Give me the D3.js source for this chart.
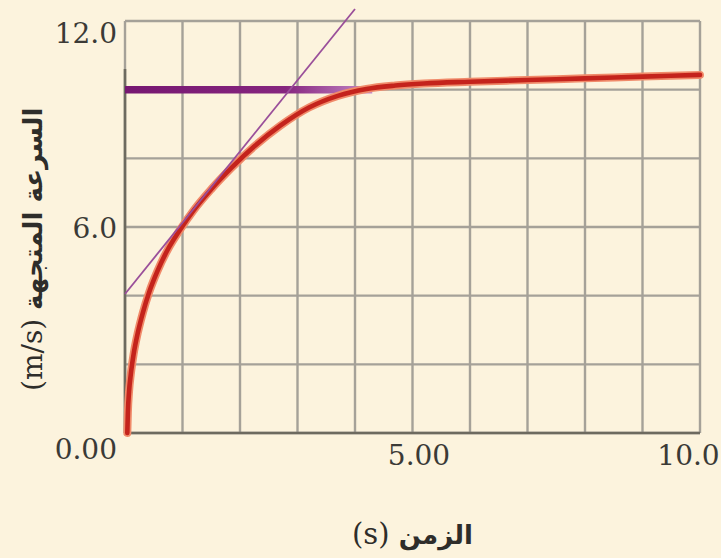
<!DOCTYPE html>
<html><head><meta charset="utf-8">
<script src="https://cdn.jsdelivr.net/npm/d3@7"></script>
<style>html,body{margin:0;padding:0;background:#fcf3dd;}svg{display:block;}</style>
</head><body>
<script>
// ---- data ----
const timeVals   = [0.04, 0.05, 0.07, 0.10, 0.15, 0.22, 0.31, 0.42, 0.56, 0.73, 0.95, 1.2, 1.5, 1.85, 2.25, 2.7, 3.2, 3.7, 4.2, 4.7, 5.2, 6.0, 7.0, 8.0, 9.0, 10.0];
const speedVals  = [0.0, 0.6, 1.2, 1.7, 2.3, 2.9, 3.5, 4.1, 4.7, 5.3, 5.9, 6.5, 7.1, 7.72, 8.35, 8.95, 9.48, 9.82, 10.02, 10.12, 10.18, 10.23, 10.28, 10.33, 10.38, 10.43];
const limitT     = [0, 4.3];
const limitV     = [10.0, 10.0];
const tangentT   = [0, 4.0];
const tangentV   = [4.05, 12.35];
const xTicks     = [5, 10];
const xTickText  = ["5.00", "10.0"];
const yTicks     = [0, 6, 12];
const yTickText  = ["0.00", "6.0", "12.0"];
const xGrid      = [0,1,2,3,4,5,6,7,8,9,10];
const yGrid      = [0,2,4,6,8,10,12];
const xTitleAr   = "الزمن";
const xTitleUnit = "(s)";
const yTitleAr   = "السرعة المتجهة";
const yTitleUnit = "(m/s)";

const W = 721, H = 558;
const m = {left:125, right:21, top:21, bottom:125};
const svg = d3.select("body").append("svg").attr("width", W).attr("height", H);
svg.append("rect").attr("width", W).attr("height", H).attr("fill", "#fcf3dd");

const x = d3.scaleLinear().domain([0,10]).range([m.left, W - m.right]);
const y = d3.scaleLinear().domain([0,12]).range([H - m.bottom, m.top]);

// grid
const g = svg.append("g");
g.selectAll("line.vx").data(xGrid).join("line")
  .attr("x1", d => x(d)).attr("x2", d => x(d)).attr("y1", y(0)).attr("y2", y(12))
  .attr("stroke", "#a5a198").attr("stroke-width", 2.4);
g.selectAll("line.hy").data(yGrid).join("line")
  .attr("y1", d => y(d)).attr("y2", d => y(d)).attr("x1", x(0)).attr("x2", x(10))
  .attr("stroke", "#a5a198").attr("stroke-width", 2.4);

// axes frame (bottom & left dark)
g.append("line").attr("x1", x(0)).attr("x2", x(10)).attr("y1", y(0)).attr("y2", y(0))
  .attr("stroke", "#6d6a5f").attr("stroke-width", 2.6);
g.append("line").attr("x1", x(0)).attr("x2", x(0)).attr("y1", y(0)).attr("y2", y(10.6))
  .attr("stroke", "#6d6a5f").attr("stroke-width", 2.6);

// gradient for limit line
const defs = svg.append("defs");
const lg = defs.append("linearGradient").attr("id", "lim").attr("gradientUnits", "userSpaceOnUse")
  .attr("x1", x(0)).attr("x2", x(4.3)).attr("y1", 0).attr("y2", 0);
lg.append("stop").attr("offset", "0").attr("stop-color", "#761771");
lg.append("stop").attr("offset", "0.65").attr("stop-color", "#86267f");
lg.append("stop").attr("offset", "1").attr("stop-color", "#c58ac8");

const line = d3.line().x(d => x(d[0])).y(d => y(d[1]));

// limit line
svg.append("path").datum(limitT.map((t,i) => [t, limitV[i]]))
  .attr("d", line).attr("fill", "none").attr("stroke", "url(#lim)").attr("stroke-width", 7.5);

// velocity curve
const curveData = timeVals.map((t,i) => [t, speedVals[i]]);
const cl = d3.line().x(d => x(d[0])).y(d => y(d[1])).curve(d3.curveMonotoneX);
svg.append("path").datum(curveData).attr("d", cl).attr("fill", "none")
  .attr("stroke", "#f08a6a").attr("stroke-width", 8).attr("stroke-linecap", "round");
svg.append("path").datum(curveData).attr("d", cl).attr("fill", "none")
  .attr("stroke", "#c4231c").attr("stroke-width", 4.6).attr("stroke-linecap", "round");

// tangent line
svg.append("path").datum(tangentT.map((t,i) => [t, tangentV[i]]))
  .attr("d", line).attr("fill", "none").attr("stroke", "#9a4f9a").attr("stroke-width", 1.8);

// y axis ticks
const serif = "'DejaVu Serif', 'Liberation Serif', serif";
const yAx = svg.append("g").attr("transform", `translate(${x(0) - 8},0)`)
  .call(d3.axisLeft(y).tickValues(yTicks).tickSize(0).tickFormat((d,i) => yTickText[i]));
yAx.select(".domain").remove();
yAx.selectAll("text").attr("font-family", serif).attr("font-size", 28).attr("fill", "#3b3a36")
  .attr("x", 0).attr("dy", d => d === 0 ? "0.92em" : (d === 12 ? "0.75em" : "0.36em"));

// x axis ticks
const xAx = svg.append("g").attr("transform", `translate(0,${y(0)})`)
  .call(d3.axisBottom(x).tickValues(xTicks).tickSize(0).tickFormat((d,i) => xTickText[i]));
xAx.select(".domain").remove();
xAx.selectAll("text").attr("font-family", serif).attr("font-size", 28).attr("fill", "#3b3a36")
  .attr("y", 12).attr("dy", "0.71em")
  .attr("x", d => d === 10 ? -12 : 6);

// titles
const arab = "'DejaVu Sans', 'Noto Sans', sans-serif";
const xt = svg.append("text").attr("x", x(5)).attr("y", 544).attr("text-anchor", "middle")
  .attr("direction", "ltr").attr("fill", "#2e2d2a");
xt.append("tspan").attr("font-family", serif).attr("font-size", 29).text(xTitleUnit + " ");
xt.append("tspan").attr("font-family", arab).attr("font-weight", "bold").attr("font-size", 26).text(xTitleAr);

const yt = svg.append("text").attr("transform", `translate(42,${y(5.35)}) rotate(-90)`)
  .attr("text-anchor", "middle").attr("direction", "ltr").attr("fill", "#2e2d2a");
yt.append("tspan").attr("font-family", serif).attr("font-size", 28).text(yTitleUnit + " ");
yt.append("tspan").attr("font-family", arab).attr("font-weight", "bold").attr("font-size", 26).text(yTitleAr);
</script>
</body></html>
